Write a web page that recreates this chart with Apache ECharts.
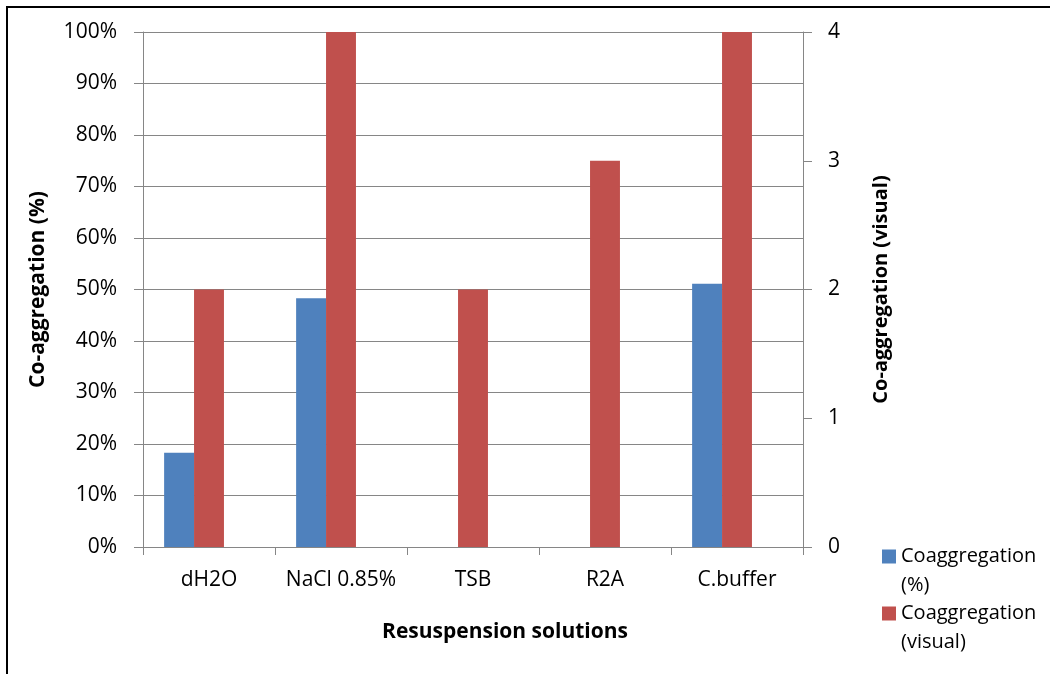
<!DOCTYPE html>
<html>
<head>
<meta charset="utf-8">
<script src="https://cdn.jsdelivr.net/npm/echarts@6/dist/echarts.min.js"></script>
<style>
html,body{margin:0;padding:0;background:#fff;}
#chart{width:1050px;height:674px;}
</style>
</head>
<body>
<div id="chart"></div>
<script>
var categories = ['dH2O', 'NaCl 0.85%', 'TSB', 'R2A', 'C.buffer'];
var coaggPercent = [18.3, 48.3, 0, 0, 51.1];
var coaggVisual = [2, 4, 2, 3, 4];
var leftTicks = [0, 10, 20, 30, 40, 50, 60, 70, 80, 90, 100];
var rightTicks = [0, 1, 2, 3, 4];

var FONT = 'Open Sans';
var chart = echarts.init(document.getElementById('chart'));
function legendCfg(name, label, top) {
  return {
    data: [name], orient: 'vertical', left: 882, top: top, padding: 0,
    itemWidth: 14, itemHeight: 14, icon: 'rect',
    formatter: function () { return ' \n' + label; },
    textStyle: { fontFamily: FONT, fontSize: 20, color: '#000', lineHeight: 29 }
  };
}
var option = {
  animation: false,
  backgroundColor: '#fff',
  textStyle: { fontFamily: FONT },
  graphic: [{
    type: 'rect', shape: { x: 7, y: 7, width: 2000, height: 2000 },
    style: { fill: 'none', stroke: '#000', lineWidth: 2 }, silent: true
  }],
  title: {
    text: 'Resuspension solutions', left: 500, top: 617, textAlign: 'center',
    textStyle: { fontFamily: FONT, fontWeight: 'bold', fontSize: 21, color: '#000' }
  },
  legend: [
    legendCfg('Coaggregation (%)', 'Coaggregation\n(%)', 513),
    legendCfg('Coaggregation (visual)', 'Coaggregation\n(visual)', 570)
  ],
  grid: { left: 143, right: 247, top: 32, bottom: 127, containLabel: false },
  xAxis: {
    type: 'category', data: categories, boundaryGap: true,
    axisLine: { lineStyle: { color: '#868686', width: 1 } },
    axisTick: { show: true, length: 8, alignWithLabel: false, lineStyle: { color: '#868686' } },
    axisLabel: { color: '#000', fontSize: 21, fontFamily: FONT, margin: 23, interval: 0 }
  },
  yAxis: [{
    type: 'value', min: leftTicks[0], max: leftTicks[leftTicks.length - 1], interval: 10,
    name: 'Co-aggregation (%)', nameLocation: 'middle', nameGap: 94, nameRotate: 90,
    nameTextStyle: { fontFamily: FONT, fontWeight: 'bold', fontSize: 21, color: '#000' },
    axisLine: { show: true, lineStyle: { color: '#868686' } },
    axisTick: { show: true, length: 9, lineStyle: { color: '#868686' } },
    axisLabel: { color: '#000', fontSize: 21, fontFamily: FONT, margin: 26, formatter: '{value}%' },
    splitLine: { show: true, lineStyle: { color: '#868686', width: 1 } }
  }, {
    type: 'value', min: rightTicks[0], max: rightTicks[rightTicks.length - 1], interval: 1,
    position: 'right',
    name: 'Co-aggregation (visual)', nameLocation: 'middle', nameGap: 68, nameRotate: 90,
    nameTextStyle: { fontFamily: FONT, fontWeight: 'bold', fontSize: 20, color: '#000' },
    axisLine: { show: true, lineStyle: { color: '#868686' } },
    axisTick: { show: true, length: 9, lineStyle: { color: '#868686' } },
    axisLabel: { color: '#000', fontSize: 21, fontFamily: FONT, margin: 25 },
    splitLine: { show: false }
  }],
  series: [{
    name: 'Coaggregation (%)', type: 'bar', yAxisIndex: 0, data: coaggPercent,
    barGap: '0%', barCategoryGap: '32%',
    itemStyle: { color: '#4F81BD' }
  }, {
    name: 'Coaggregation (visual)', type: 'bar', yAxisIndex: 1, data: coaggVisual,
    barGap: '0%', barCategoryGap: '32%',
    itemStyle: { color: '#C0504D' }
  }, {
    name: 'spacer', type: 'bar', yAxisIndex: 0, data: categories.map(function () { return null; }),
    barGap: '0%', barCategoryGap: '32%', silent: true,
    itemStyle: { color: 'rgba(0,0,0,0)' }
  }]
};
chart.setOption(option);
</script>
</body>
</html>
